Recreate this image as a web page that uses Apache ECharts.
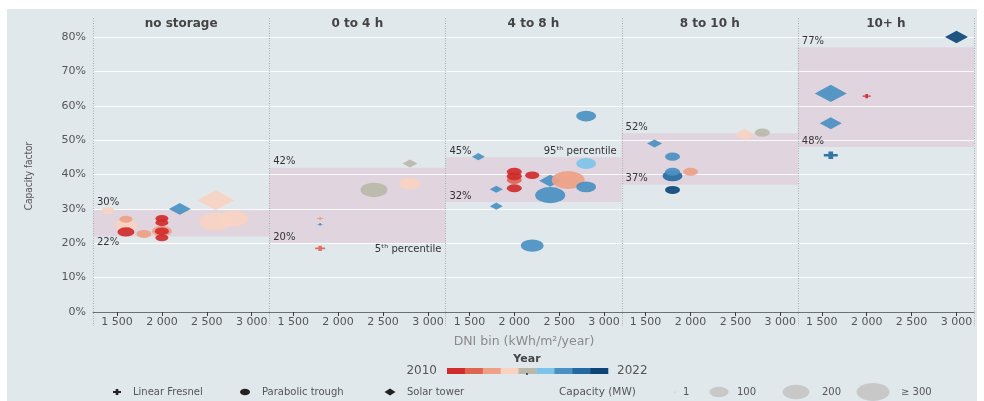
<!DOCTYPE html>
<html>
<head>
<meta charset="utf-8">
<title>CSP capacity factor by storage duration</title>
<script src="https://cdn.jsdelivr.net/npm/echarts@6/dist/echarts.min.js"></script>
<style>
  html, body { margin: 0; padding: 0; background: #ffffff; }
  #chart { width: 984px; height: 401px; }
</style>
</head>
<body>
<div id="chart"></div>
<script>
// Storage duration groups, one facet each
const storageGroups = ['no storage', '0 to 4 h', '4 to 8 h', '8 to 10 h', '10+ h'];
// 5th / 95th percentile capacity factor per group (%)
const p5 = [22, 20, 32, 37, 48];
const p95 = [30, 42, 45, 52, 77];
// Axis ticks
const dniTicks = [1500, 2000, 2500, 3000];
// Year colour scale (2010 -> 2022)
const firstYear = 2010, lastYear = 2022;
const yearPalette = ['#d02b2b', '#dd6552', '#ee9f86', '#f9d2c2', '#bab8a9', '#7ec3ea', '#4a90c2', '#2469a0', '#0c4677'];
// Technologies
const technologies = { LF: 'Linear Fresnel', PT: 'Parabolic trough', ST: 'Solar tower' };
// Capacity size key (MW)
const capacityKey = [1, 100, 200, 300];
const capacityKeyLabels = ['1', '100', '200', '\u2265 300'];

// Plants: [DNI bin (kWh/m2/year), capacity factor (%), capacity (MW), year, technology]
const plantsNoStorage = [
  [1400, 29.5, 47, 2014, 'PT'],
  [1600, 25.3, 146, 2015, 'PT'],
  [1600, 27.0, 47, 2013, 'PT'],
  [1600, 23.3, 80, 2010, 'PT'],
  [1800, 22.7, 62, 2013, 'PT'],
  [2000, 23.5, 110, 2013, 'PT'],
  [2000, 27.2, 47, 2010, 'PT'],
  [2000, 26.0, 47, 2010, 'PT'],
  [2000, 23.5, 55, 2010, 'PT'],
  [2000, 21.6, 47, 2010, 'PT'],
  [2200, 30.0, 134, 2019, 'ST'],
  [2600, 32.5, 380, 2014, 'ST'],
  [2600, 26.3, 300, 2015, 'PT'],
  [2800, 27.2, 250, 2014, 'PT']
];
const plants0to4 = [
  [1800, 27.2, 10, 2013, 'LF'],
  [1800, 25.5, 7, 2019, 'LF'],
  [1800, 18.5, 28, 2012, 'LF'],
  [2400, 35.5, 200, 2016, 'PT'],
  [2800, 37.4, 134, 2014, 'PT'],
  [2800, 43.2, 62, 2016, 'ST']
];
const plants4to8 = [
  [1600, 45.2, 47, 2019, 'ST'],
  [1800, 35.7, 47, 2019, 'ST'],
  [1800, 30.8, 47, 2019, 'ST'],
  [2000, 38.4, 62, 2011, 'PT'],
  [2000, 40.8, 62, 2010, 'PT'],
  [2000, 39.5, 62, 2010, 'PT'],
  [2000, 36.0, 62, 2010, 'PT'],
  [2200, 39.8, 55, 2010, 'PT'],
  [2400, 38.2, 134, 2019, 'ST'],
  [2400, 34.0, 250, 2019, 'PT'],
  [2600, 38.4, 300, 2013, 'PT'],
  [2800, 36.4, 110, 2019, 'PT'],
  [2800, 43.2, 110, 2018, 'PT'],
  [2800, 57.0, 110, 2019, 'PT'],
  [2200, 19.3, 146, 2019, 'PT']
];
const plants8to10 = [
  [1600, 49.0, 62, 2019, 'ST'],
  [1800, 45.2, 62, 2019, 'PT'],
  [1800, 39.6, 110, 2020, 'PT'],
  [1800, 40.8, 62, 2019, 'PT'],
  [1800, 35.5, 62, 2022, 'PT'],
  [2000, 40.8, 62, 2013, 'PT'],
  [2600, 51.6, 134, 2014, 'ST'],
  [2800, 52.2, 62, 2016, 'PT']
];
const plants10plus = [
  [3000, 80.0, 146, 2022, 'ST'],
  [1600, 63.6, 284, 2019, 'ST'],
  [2000, 62.8, 18, 2010, 'LF'],
  [1600, 54.9, 134, 2019, 'ST'],
  [1600, 45.6, 54, 2021, 'LF']
];
const panelPlants = [plantsNoStorage, plants0to4, plants4to8, plants8to10, plants10plus];

// ---- layout & style ----
const PANEL_LEFT = 93, PANEL_W = 176.2, PANEL_TOP = 37, PANEL_H = 275;
const X_MIN = 1233, X_MAX = 3195;
const ASPECT = 1.85;           // marks are drawn slightly wider than tall
const FONT = '"DejaVu Sans", Verdana, sans-serif';
const TXT = '#555555';
const BAND = '#e0d4de';
const crossPath = 'path://M1,0H2V1H3V2H2V3H1V2H0V1H1Z';
const techSymbols = { LF: crossPath, PT: 'circle', ST: 'diamond' };

function markWidth(mw) { return 19 * Math.sqrt(mw / 100); }
function yearColor(y) {
  const idx = Math.round((y - firstYear) * (yearPalette.length - 1) / (lastYear - firstYear));
  return yearPalette[Math.max(0, Math.min(yearPalette.length - 1, idx))];
}
function fmtThousands(v) { return String(v).replace(/\B(?=(\d{3})+(?!\d))/g, ' '); }

const chart = echarts.init(document.getElementById('chart'), null, { renderer: 'canvas' });

const grid = [], xAxis = [], yAxis = [], series = [];
storageGroups.forEach((name, i) => {
  const left = PANEL_LEFT + i * PANEL_W;
  grid.push({ left: left, top: PANEL_TOP, width: PANEL_W, height: PANEL_H });
  xAxis.push({
    gridIndex: i, type: 'value', min: X_MIN, max: X_MAX, z: 3,
    axisLine: { show: true, onZero: false, lineStyle: { color: '#707070', width: 1 } },
    axisTick: { show: true, customValues: dniTicks, length: 4, lineStyle: { color: '#3a3a3a' } },
    axisLabel: { customValues: dniTicks, formatter: fmtThousands, color: TXT, fontSize: 11, fontFamily: FONT, margin: 5 },
    splitLine: { show: false }
  });
  yAxis.push({
    gridIndex: i, type: 'value', min: 0, max: 80, interval: 10, z: 2,
    axisLine: { show: false }, axisTick: { show: false },
    axisLabel: { show: i === 0, formatter: '{value}%', color: TXT, fontSize: 11, fontFamily: FONT, margin: 7 },
    splitLine: { show: true, lineStyle: { color: 'rgba(255,255,255,0.9)', width: 1 } }
  });

  // percentile band
  series.push({
    type: 'custom', xAxisIndex: i, yAxisIndex: i, z: 1, silent: true,
    data: [[p5[i], p95[i]]],
    renderItem: function (params, api) {
      const cs = params.coordSys;
      const yTop = api.coord([X_MIN, api.value(1)])[1];
      const yBot = api.coord([X_MIN, api.value(0)])[1];
      return { type: 'rect', shape: { x: cs.x, y: yTop, width: cs.width, height: yBot - yTop }, style: { fill: BAND } };
    }
  });

  // band value labels and percentile notes
  series.push({
    type: 'custom', xAxisIndex: i, yAxisIndex: i, z: 5, silent: true,
    data: [[p5[i], p95[i]]],
    renderItem: function (params, api) {
      const cs = params.coordSys;
      const lo = api.value(0), hi = api.value(1);
      const yTop = api.coord([X_MIN, hi])[1];
      const yBot = api.coord([X_MIN, lo])[1];
      const below = params.dataIndex === 0 && i === 0;
      const font = '10px ' + FONT;
      const kids = [
        { type: 'text', style: { text: hi + '%', x: cs.x + 4, y: yTop - 1, font: font, fill: '#333',
          align: 'left', verticalAlign: 'bottom', textAlign: 'left', textVerticalAlign: 'bottom' } },
        { type: 'text', style: { text: lo + '%', x: cs.x + 4, y: below ? yBot + 1 : yBot - 1, font: font, fill: '#333',
          align: 'left', verticalAlign: below ? 'top' : 'bottom', textAlign: 'left', textVerticalAlign: below ? 'top' : 'bottom' } }
      ];
      if (i === 1) {
        kids.push({ type: 'text', style: { text: '5\u1d57\u02b0 percentile', x: cs.x + cs.width - 4, y: yBot + 1, font: font, fill: '#333',
          align: 'right', verticalAlign: 'top', textAlign: 'right', textVerticalAlign: 'top' } });
      }
      if (i === 2) {
        kids.push({ type: 'text', style: { text: '95\u1d57\u02b0 percentile', x: cs.x + cs.width - 5, y: yTop - 1, font: font, fill: '#333',
          align: 'right', verticalAlign: 'bottom', textAlign: 'right', textVerticalAlign: 'bottom' } });
      }
      return { type: 'group', children: kids };
    }
  });

  // plants
  series.push({
    name: name, type: 'scatter', xAxisIndex: i, yAxisIndex: i, z: 4, clip: false, silent: true,
    data: panelPlants[i].map(p => {
      const w = Math.max(2, markWidth(p[2]));
      return {
        value: [p[0], p[1]],
        symbol: techSymbols[p[4]],
        symbolSize: [w, w / ASPECT],
        itemStyle: { color: yearColor(p[3]), opacity: 0.92 }
      };
    })
  });
});

// ---- decorations: background, facet separators, titles, axis names, keys ----
const graphic = [];
graphic.push({ type: 'rect', z: -100, silent: true, shape: { x: 7, y: 9, width: 970, height: 392 }, style: { fill: '#e1e8ec' } });
for (let k = 0; k <= storageGroups.length; k++) {
  const x = Math.round(PANEL_LEFT + k * PANEL_W) + 0.5;
  graphic.push({ type: 'line', z: 3, silent: true, shape: { x1: x, y1: 18, x2: x, y2: 326 },
    style: { stroke: '#a8acae', lineWidth: 1, lineDash: [1, 1.5] } });
}
storageGroups.forEach((name, i) => {
  graphic.push({ type: 'text', z: 5, silent: true, style: {
    text: name, x: PANEL_LEFT + (i + 0.5) * PANEL_W, y: 24, font: 'bold 12px ' + FONT, fill: '#444',
    align: 'center', verticalAlign: 'middle', textAlign: 'center', textVerticalAlign: 'middle' } });
});
graphic.push({ type: 'text', z: 5, silent: true, x: 29, y: 176, rotation: Math.PI / 2, style: {
  text: 'Capacity factor', x: 0, y: 0, font: '10px "Liberation Sans Narrow", "DejaVu Sans Condensed", "Liberation Sans", sans-serif', fill: TXT,
  align: 'center', verticalAlign: 'middle', textAlign: 'center', textVerticalAlign: 'middle' } });
graphic.push({ type: 'text', z: 5, silent: true, style: {
  text: 'DNI bin (kWh/m\u00b2/year)', x: 524, y: 342, font: '12.5px ' + FONT, fill: '#8a8a8a',
  align: 'center', verticalAlign: 'middle', textAlign: 'center', textVerticalAlign: 'middle' } });

// year key
graphic.push({ type: 'text', z: 5, silent: true, style: {
  text: 'Year', x: 527, y: 359, font: 'bold 11px ' + FONT, fill: '#444',
  align: 'center', verticalAlign: 'middle', textAlign: 'center', textVerticalAlign: 'middle' } });
const barX = 447, barW = 161, segW = barW / yearPalette.length;
yearPalette.forEach((c, k) => {
  graphic.push({ type: 'rect', z: 5, silent: true, shape: { x: barX + k * segW, y: 368, width: segW + 0.3, height: 6 }, style: { fill: c } });
});
graphic.push({ type: 'circle', z: 6, silent: true, shape: { cx: 527, cy: 374, r: 1 }, style: { fill: '#333' } });
graphic.push({ type: 'text', z: 5, silent: true, style: {
  text: String(firstYear), x: 437, y: 371, font: '12px ' + FONT, fill: TXT,
  align: 'right', verticalAlign: 'middle', textAlign: 'right', textVerticalAlign: 'middle' } });
graphic.push({ type: 'text', z: 5, silent: true, style: {
  text: String(lastYear), x: 617, y: 371, font: '12px ' + FONT, fill: TXT,
  align: 'left', verticalAlign: 'middle', textAlign: 'left', textVerticalAlign: 'middle' } });

// technology key
const keyY = 392;
const techKey = [
  { tech: 'LF', cx: 117, tx: 133 },
  { tech: 'PT', cx: 245, tx: 262 },
  { tech: 'ST', cx: 390, tx: 407 }
];
techKey.forEach(k => {
  if (k.tech === 'LF') {
    const w = 8, h = 6, a = w / 3, b = h / 3;
    graphic.push({ type: 'polygon', z: 5, silent: true, shape: { points: [
      [k.cx - a / 2, keyY - h / 2], [k.cx + a / 2, keyY - h / 2], [k.cx + a / 2, keyY - b / 2], [k.cx + w / 2, keyY - b / 2],
      [k.cx + w / 2, keyY + b / 2], [k.cx + a / 2, keyY + b / 2], [k.cx + a / 2, keyY + h / 2], [k.cx - a / 2, keyY + h / 2],
      [k.cx - a / 2, keyY + b / 2], [k.cx - w / 2, keyY + b / 2], [k.cx - w / 2, keyY - b / 2], [k.cx - a / 2, keyY - b / 2]
    ] }, style: { fill: '#222' } });
  } else if (k.tech === 'PT') {
    graphic.push({ type: 'ellipse', z: 5, silent: true, shape: { cx: k.cx, cy: keyY, rx: 5, ry: 3.3 }, style: { fill: '#222' } });
  } else {
    graphic.push({ type: 'polygon', z: 5, silent: true, shape: { points: [
      [k.cx - 5.5, keyY], [k.cx, keyY - 3.5], [k.cx + 5.5, keyY], [k.cx, keyY + 3.5]] }, style: { fill: '#222' } });
  }
  graphic.push({ type: 'text', z: 5, silent: true, style: {
    text: technologies[k.tech], x: k.tx, y: keyY, font: '10px ' + FONT, fill: TXT,
    align: 'left', verticalAlign: 'middle', textAlign: 'left', textVerticalAlign: 'middle' } });
});

// capacity key
graphic.push({ type: 'text', z: 5, silent: true, style: {
  text: 'Capacity (MW)', x: 559, y: keyY, font: '10.5px ' + FONT, fill: TXT,
  align: 'left', verticalAlign: 'middle', textAlign: 'left', textVerticalAlign: 'middle' } });
const capCx = [675, 719, 796, 873], capTx = [683, 737, 822, 901];
capacityKey.forEach((mw, k) => {
  const w = Math.max(2, markWidth(mw));
  graphic.push({ type: 'ellipse', z: 5, silent: true, shape: { cx: capCx[k], cy: keyY, rx: w / 2, ry: w / ASPECT / 2 }, style: { fill: '#c8c8c8' } });
  graphic.push({ type: 'text', z: 5, silent: true, style: {
    text: capacityKeyLabels[k], x: capTx[k], y: keyY, font: '10px ' + FONT, fill: TXT,
    align: 'left', verticalAlign: 'middle', textAlign: 'left', textVerticalAlign: 'middle' } });
});

chart.setOption({
  backgroundColor: 'transparent',
  animation: false,
  grid: grid,
  xAxis: xAxis,
  yAxis: yAxis,
  series: series,
  graphic: graphic
});
</script>
</body>
</html>
